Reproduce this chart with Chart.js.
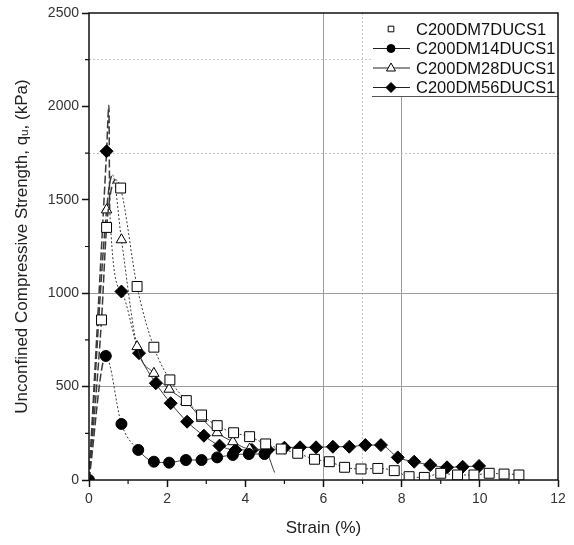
<!DOCTYPE html>
<html><head><meta charset="utf-8">
<style>html,body{margin:0;padding:0;background:#fff;}canvas{display:block;}</style>
<script src="https://cdn.jsdelivr.net/npm/chart.js@4.4.1/dist/chart.umd.min.js"></script>
</head><body>
<canvas id="c" width="574" height="545"></canvas>
<script>
// ---- data ----
const seriesNames = ['C200DM7DUCS1', 'C200DM14DUCS1', 'C200DM28DUCS1', 'C200DM56DUCS1'];

const strain7 = [0, 0.32, 0.45, 0.68, 0.81, 1.23, 1.66, 2.07, 2.49, 2.88, 3.28, 3.70, 4.11, 4.52, 4.92, 5.34, 5.77, 6.15, 6.54, 6.96, 7.39, 7.81, 8.19, 8.58, 9.00, 9.43, 9.85, 10.24, 10.62, 11.00, 11.10];
const q7      = [0, 857, 1352, 1607, 1563, 1036, 711, 536, 425, 348, 291, 253, 232, 193, 166, 143, 111, 98, 68, 59, 62, 50, 18, 14, 36, 27, 27, 36, 32, 27, 5];

const strain14 = [0, 0.43, 0.83, 1.26, 1.66, 2.05, 2.48, 2.88, 3.28, 3.68, 4.09, 4.49];
const q14      = [0, 664, 300, 161, 98, 93, 107, 107, 121, 134, 139, 139];

const strain28 = [0, 0.45, 0.60, 0.83, 1.23, 1.66, 2.05, 2.48, 2.88, 3.28, 3.68, 4.11, 4.49, 4.75];
const q28      = [0, 1446, 1634, 1286, 714, 571, 486, 420, 330, 253, 205, 166, 161, 40];

const strain56 = [0, 0.45, 0.51, 0.53, 0.83, 1.28, 1.71, 2.09, 2.51, 2.94, 3.34, 3.75, 4.17, 4.58, 5.00, 5.40, 5.81, 6.24, 6.66, 7.07, 7.47, 7.90, 8.32, 8.73, 9.16, 9.56, 9.98];
const q56      = [0, 1760, 2005, 1450, 1009, 679, 518, 411, 312, 237, 184, 161, 161, 161, 173, 175, 175, 178, 178, 187, 187, 121, 98, 80, 68, 71, 75];

const xTickLabels = [0, 2, 4, 6, 8, 10, 12];
const yTickLabels = [0, 500, 1000, 1500, 2000, 2500];

const xTitle = 'Strain (%)';
const yTitle = 'Unconfined Compressive Strength, q\u1D64, (kPa)';

// ---- chart ----
Chart.defaults.font.family = '"Liberation Sans", Arial, sans-serif';
Chart.defaults.color = '#222';

// dashEnd: last point index reached by long-dash segments; dotEnd: last index reached by dotted segments
function makeSet(label, xs, ys, style, fill, radius, dashEnd, dotEnd, tailDash, noMarker) {
  return {
    label: label,
    data: xs.map((x, i) => ({ x: x, y: ys[i] })),
    borderColor: '#3a3a3a',
    borderWidth: 1,
    cubicInterpolationMode: 'monotone',
    fill: false,
    pointStyle: style,
    pointBackgroundColor: fill,
    pointBorderColor: '#000',
    pointBorderWidth: 1,
    pointRadius: ctx => noMarker.includes(ctx.dataIndex) ? 0 : radius,
    pointHoverRadius: radius,
    segment: {
      borderDash: ctx => ctx.p1DataIndex <= dashEnd ? [8, 3] : (ctx.p1DataIndex <= dotEnd ? [2, 2] : tailDash),
      borderWidth: ctx => ctx.p1DataIndex <= dashEnd ? 1.5 : 1
    }
  };
}

const datasets = [
  makeSet(seriesNames[0], strain7, q7, 'rect', '#fff', 7, 3, 99, [2, 2], [0, 3, strain7.length - 1]),
  makeSet(seriesNames[1], strain14, q14, 'circle', '#000', 5.5, 1, 3, [], []),
  makeSet(seriesNames[2], strain28, q28, 'triangle', '#fff', 6, 2, 4, [], [0, 2, strain28.length - 1]),
  makeSet(seriesNames[3], strain56, q56, 'rectRot', '#000', 6.5, 3, 5, [], [0, 2, 3])
];

function drawMarker(ctx, style, x, y, r, fill) {
  ctx.save();
  ctx.fillStyle = fill; ctx.strokeStyle = '#000'; ctx.lineWidth = 1; ctx.setLineDash([]);
  ctx.beginPath();
  if (style === 'circle') { ctx.arc(x, y, r, 0, Math.PI * 2); }
  else if (style === 'rect') { ctx.rect(x - r * 0.7, y - r * 0.7, r * 1.4, r * 1.4); }
  else if (style === 'triangle') { ctx.moveTo(x, y - r); ctx.lineTo(x + r * 0.9, y + r * 0.6); ctx.lineTo(x - r * 0.9, y + r * 0.6); ctx.closePath(); }
  else if (style === 'rectRot') { ctx.moveTo(x, y - r); ctx.lineTo(x + r, y); ctx.lineTo(x, y + r); ctx.lineTo(x - r, y); ctx.closePath(); }
  ctx.fill(); ctx.stroke();
  ctx.restore();
}

const framePlugin = {
  id: 'frame',
  afterDraw(chart) {
    const ctx = chart.ctx, a = chart.chartArea;
    const xs = chart.scales.x, ys = chart.scales.y;
    ctx.save();
    // legend box
    const lx = 372, ly = a.top, lw = a.right - 372, lh = 83;
    ctx.fillStyle = '#fff';
    ctx.fillRect(lx, ly, lw, lh);
    ctx.strokeStyle = '#555'; ctx.lineWidth = 1;
    ctx.beginPath(); ctx.moveTo(lx, ly + lh + 0.5); ctx.lineTo(a.right, ly + lh + 0.5); ctx.stroke();
    // frame
    ctx.strokeStyle = '#111'; ctx.lineWidth = 1.5;
    ctx.strokeRect(a.left, a.top, a.right - a.left, a.bottom - a.top);
    // minor ticks
    ctx.lineWidth = 1.2;
    ctx.beginPath();
    for (let v = 1; v < 12; v += 2) {
      const px = xs.getPixelForValue(v);
      ctx.moveTo(px, a.bottom); ctx.lineTo(px, a.bottom + 4);
    }
    for (let v = 250; v < 2500; v += 500) {
      const py = ys.getPixelForValue(v);
      ctx.moveTo(a.left, py); ctx.lineTo(a.left - 4, py);
    }
    ctx.stroke();
    // legend entries
    ctx.font = '16.5px "Liberation Sans", Arial, sans-serif';
    ctx.textBaseline = 'middle';
    chart.data.datasets.forEach((ds, i) => {
      const y = ly + 16 + i * 19.5;
      if (i > 0) {
        ctx.strokeStyle = '#222'; ctx.lineWidth = 1; ctx.setLineDash([]);
        ctx.beginPath(); ctx.moveTo(373, y); ctx.lineTo(410, y); ctx.stroke();
      }
      const r = i === 0 ? 4 : (i === 1 ? 4 : 5);
      drawMarker(ctx, ds.pointStyle, 391, y, r, ds.pointBackgroundColor);
      ctx.fillStyle = '#111';
      ctx.fillText(ds.label, 416, y + 1);
    });
    ctx.restore();
  }
};

new Chart(document.getElementById('c'), {
  type: 'line',
  data: { datasets: datasets },
  options: {
    responsive: false,
    animation: false,
    layout: { padding: { top: 13, right: 16, left: 0, bottom: 0 } },
    plugins: { legend: { display: false }, tooltip: { enabled: false } },
    scales: {
      x: {
        type: 'linear', min: 0, max: 12,
        afterFit: s => { s.height = 65; },
        ticks: {
          stepSize: 1, autoSkip: false, maxRotation: 0, padding: 4,
          font: { size: 14 }, color: '#333',
          callback: v => xTickLabels.includes(v) ? String(v) : ''
        },
        grid: {
          color: ctx => {
            const v = ctx.tick ? ctx.tick.value : null;
            if (v === 6 || v === 8) return '#9c9c9c';
            if (v === 7) return '#c4c4c4';
            return 'rgba(0,0,0,0)';
          },
          lineWidth: 1,
          tickLength: 7,
          tickWidth: 1.5,
          tickColor: ctx => (ctx.tick && xTickLabels.includes(ctx.tick.value)) ? '#111' : 'rgba(0,0,0,0)'
        },
        border: { display: false, dash: ctx => (ctx.tick && ctx.tick.value === 7) ? [2, 2] : [] },
        title: { display: true, text: xTitle, font: { size: 17 }, color: '#222', padding: { top: 4, bottom: 6 } }
      },
      y: {
        type: 'linear', min: 0, max: 2500,
        afterFit: s => { s.width = 89; },
        ticks: {
          stepSize: 250, autoSkip: false, padding: 3,
          font: { size: 14 }, color: '#333',
          callback: v => yTickLabels.includes(v) ? String(v) : ''
        },
        grid: {
          color: ctx => {
            const v = ctx.tick ? ctx.tick.value : null;
            if (v === 500 || v === 1000) return '#9c9c9c';
            if (v === 1750 || v === 2250) return '#c4c4c4';
            return 'rgba(0,0,0,0)';
          },
          lineWidth: 1,
          tickLength: 7,
          tickWidth: 1.5,
          tickColor: ctx => (ctx.tick && yTickLabels.includes(ctx.tick.value)) ? '#111' : 'rgba(0,0,0,0)'
        },
        border: { display: false, dash: ctx => (ctx.tick && (ctx.tick.value === 1750 || ctx.tick.value === 2250)) ? [2, 2] : [] },
        title: { display: true, text: yTitle, font: { size: 17 }, color: '#222', padding: { top: 12, bottom: 0 } }
      }
    }
  },
  plugins: [framePlugin]
});
</script>
</body></html>
